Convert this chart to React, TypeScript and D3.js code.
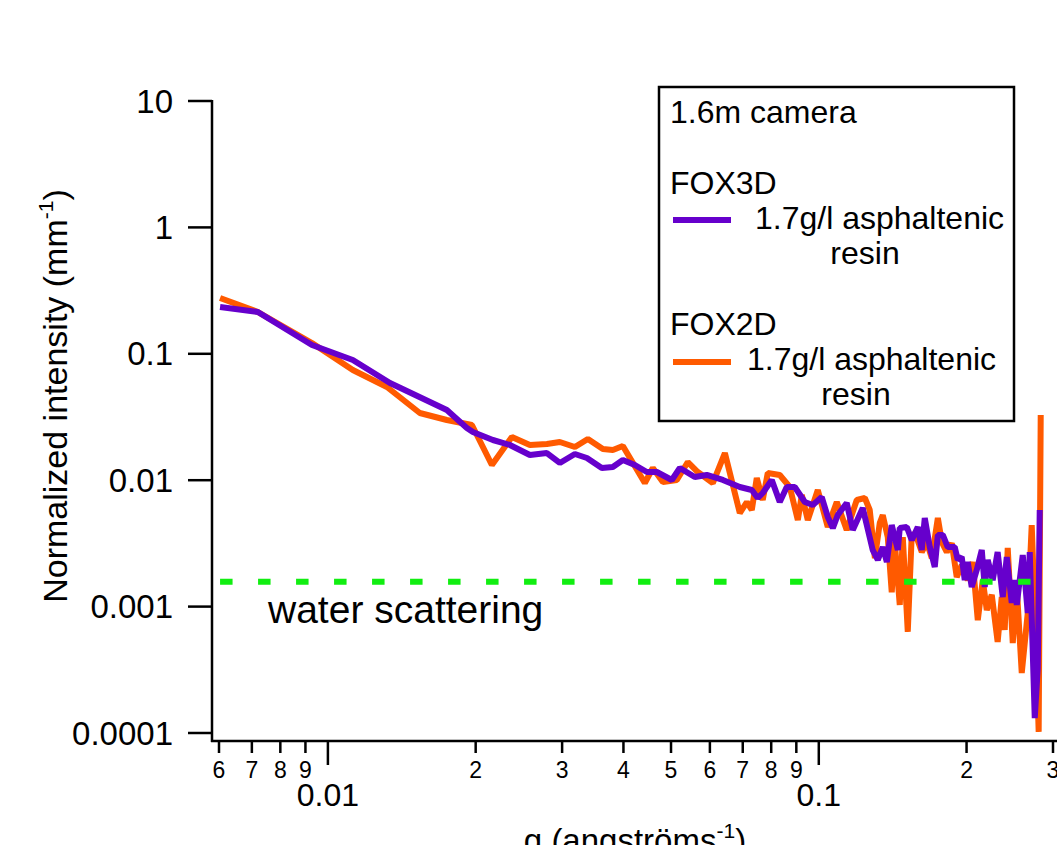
import React from 'react';
import * as d3 from 'd3';

// FOX3D series (purple), q in 1/angstrom, intensity in 1/mm
const fox3dQ = [0.00603, 0.0072, 0.00928, 0.01124, 0.01338, 0.01747, 0.01919, 0.01974, 0.02168, 0.02348, 0.02579, 0.02793, 0.02968, 0.03185, 0.0337, 0.03614, 0.03806, 0.03989, 0.0422, 0.04464, 0.04678, 0.05019, 0.05211, 0.0559, 0.05913, 0.06377, 0.06904, 0.07303, 0.07511, 0.07688, 0.08021, 0.08327, 0.08605, 0.08934, 0.09365, 0.09723, 0.1014, 0.1043, 0.1068, 0.1093, 0.114, 0.1173, 0.1229, 0.1288, 0.1319, 0.135, 0.1376, 0.1408, 0.1449, 0.1462, 0.1511, 0.1547, 0.1591, 0.1621, 0.1644, 0.1683, 0.1723, 0.1748, 0.1789, 0.1831, 0.1892, 0.1919, 0.1955, 0.1983, 0.2011, 0.2049, 0.2098, 0.2148, 0.2178, 0.2209, 0.2261, 0.2314, 0.237, 0.2415, 0.2472, 0.2507, 0.2531, 0.2603, 0.2665, 0.269, 0.2754, 0.2793, 0.2819];
const fox3dI = [0.2346, 0.2142, 0.1174, 0.0893, 0.0587, 0.0359, 0.0259, 0.02406, 0.0208, 0.019, 0.01583, 0.01641, 0.01368, 0.01612, 0.01498, 0.01249, 0.01272, 0.01445, 0.01319, 0.01161, 0.01161, 0.01004, 0.01249, 0.0106, 0.011, 0.01004, 0.00884, 0.00837, 0.00723, 0.00792, 0.01004, 0.00672, 0.00884, 0.00884, 0.00672, 0.00637, 0.00736, 0.00512, 0.00418, 0.0053, 0.0066, 0.00404, 0.00603, 0.0028, 0.00234, 0.00296, 0.00225, 0.00442, 0.0028, 0.00418, 0.00426, 0.00336, 0.00426, 0.0028, 0.00502, 0.00296, 0.00206, 0.00369, 0.00369, 0.00296, 0.00296, 0.00234, 0.00247, 0.00162, 0.00225, 0.00143, 0.00195, 0.0028, 0.00143, 0.00234, 0.00162, 0.0027, 0.00119, 0.00247, 0.00107, 0.00162, 0.00103, 0.00256, 0.00089, 0.0027, 0.000131, 0.000327, 0.00581];

// FOX2D series (orange)
const fox2dQ = [0.00603, 0.0072, 0.00928, 0.01124, 0.01319, 0.01539, 0.01747, 0.01965, 0.02158, 0.0237, 0.02579, 0.02793, 0.02968, 0.03185, 0.03385, 0.03632, 0.03806, 0.03989, 0.04422, 0.04591, 0.04812, 0.05138, 0.0541, 0.0567, 0.06083, 0.06437, 0.06904, 0.07136, 0.07303, 0.07476, 0.07688, 0.07871, 0.08327, 0.08728, 0.09063, 0.09235, 0.09497, 0.09954, 0.1043, 0.1088, 0.114, 0.1195, 0.1241, 0.127, 0.1301, 0.1331, 0.135, 0.1382, 0.1408, 0.1428, 0.1462, 0.1483, 0.1518, 0.1547, 0.1584, 0.1621, 0.166, 0.1699, 0.1748, 0.1781, 0.1823, 0.1866, 0.191, 0.1955, 0.2011, 0.2059, 0.2108, 0.2158, 0.2199, 0.2251, 0.2314, 0.2359, 0.2392, 0.2426, 0.2484, 0.2531, 0.2591, 0.2665, 0.2715, 0.278, 0.2805, 0.2832];
const fox2dI = [0.2764, 0.2142, 0.1217, 0.0744, 0.0546, 0.034, 0.02994, 0.02733, 0.01319, 0.02197, 0.019, 0.01934, 0.02006, 0.01831, 0.02118, 0.01765, 0.01733, 0.01865, 0.0095, 0.01249, 0.00968, 0.01004, 0.01393, 0.01161, 0.0095, 0.01641, 0.0055, 0.00672, 0.00581, 0.01041, 0.00697, 0.0114, 0.011, 0.00884, 0.00484, 0.00764, 0.00484, 0.00837, 0.00426, 0.00672, 0.00404, 0.00697, 0.00723, 0.00581, 0.00242, 0.00458, 0.0053, 0.00355, 0.0013, 0.00324, 0.00103, 0.00355, 0.00063, 0.00382, 0.00349, 0.0027, 0.00324, 0.00242, 0.00502, 0.00324, 0.0027, 0.00318, 0.00171, 0.00213, 0.00162, 0.00225, 0.00078, 0.00162, 0.00094, 0.00124, 0.000525, 0.00119, 0.000653, 0.00291, 0.000515, 0.00143, 0.000298, 0.00089, 0.00442, 0.000333, 0.000102, 0.0328];

// water scattering level and its q range
const waterLevel = 0.00157;
const waterQ = [0.00603, 0.276];

const yTicks = [10, 1, 0.1, 0.01, 0.001, 0.0001];
const yTickLabels = ['10', '1', '0.1', '0.01', '0.001', '0.0001'];
const xMinorTicks = [0.006, 0.007, 0.008, 0.009, 0.02, 0.03, 0.04, 0.05, 0.06, 0.07, 0.08, 0.09, 0.2, 0.3];
const xMinorLabels = ['6', '7', '8', '9', '2', '3', '4', '5', '6', '7', '8', '9', '2', '3'];
const xMajorTicks = [0.01, 0.1];
const xMajorLabels = ['0.01', '0.1'];

const PURPLE = '#6600cc';
const ORANGE = '#ff5a00';
const GREEN = '#11ee11';
const FONT = '"Liberation Sans", Arial, Helvetica, sans-serif';

export default function App() {
  const width = 1057;
  const height = 845;
  const axisX = 212;
  const axisY = 741;

  const x = d3.scaleLog().domain([0.006, 0.3]).range([219, 1053]);
  const y = d3.scaleLog().domain([0.0001, 10]).range([733, 101]);

  const line = d3.line<[number, number]>()
    .x(d => x(d[0]))
    .y(d => y(d[1]));

  const fox3d = fox3dQ.map((q, i) => [q, fox3dI[i]] as [number, number]);
  const fox2d = fox2dQ.map((q, i) => [q, fox2dI[i]] as [number, number]);

  return (
    <div style={{ position: 'absolute', left: 0, top: 0 }}>
      <svg width={width} height={height} style={{ display: 'block', background: '#fff' }} fontFamily={FONT}>
        <defs>
          <clipPath id="plot">
            <rect x={axisX} y={95} width={width - axisX} height={axisY - 95} />
          </clipPath>
        </defs>

        <text x={268} y={623} fontSize={39} fill="#000">water scattering</text>

        <g clipPath="url(#plot)" fill="none" strokeWidth={6} strokeLinejoin="bevel">
          <path d={line(fox2d) || ''} stroke={ORANGE} />
          <path d={line(fox3d) || ''} stroke={PURPLE} />
        </g>

        {/* water scattering, drawn over the data */}
        <line
          x1={x(waterQ[0])} x2={x(waterQ[1])}
          y1={y(waterLevel)} y2={y(waterLevel)}
          stroke={GREEN} strokeWidth={6} strokeDasharray="12.5 25.5"
        />

        {/* y axis */}
        <line x1={axisX} x2={axisX} y1={100} y2={axisY + 1} stroke="#000" strokeWidth={2.5} />
        {yTicks.map((t, i) => (
          <g key={'y' + i}>
            <line x1={188} x2={axisX} y1={y(t)} y2={y(t)} stroke="#000" strokeWidth={2.5} />
            <text x={173} y={y(t)} dy="0.35em" textAnchor="end" fontSize={33}>{yTickLabels[i]}</text>
          </g>
        ))}
        <text transform="translate(67,396) rotate(-90)" textAnchor="middle" fontSize={34}>
          Normalized intensity (mm<tspan fontSize={21} dy={-14}>-1</tspan><tspan dy={14}>)</tspan>
        </text>

        {/* x axis */}
        <line x1={axisX - 1} x2={width} y1={axisY} y2={axisY} stroke="#000" strokeWidth={2.5} />
        {xMinorTicks.map((t, i) => (
          <g key={'xm' + i}>
            <line x1={x(t)} x2={x(t)} y1={axisY} y2={axisY + 12} stroke="#000" strokeWidth={2.5} />
            <text x={x(t)} y={778} textAnchor="middle" fontSize={23}>{xMinorLabels[i]}</text>
          </g>
        ))}
        {xMajorTicks.map((t, i) => (
          <g key={'xM' + i}>
            <line x1={x(t)} x2={x(t)} y1={axisY} y2={axisY + 24} stroke="#000" strokeWidth={2.5} />
            <text x={x(t)} y={806} textAnchor="middle" fontSize={32}>{xMajorLabels[i]}</text>
          </g>
        ))}
        <text x={635} y={852} textAnchor="middle" fontSize={33}>
          q (angströms<tspan fontSize={21} dy={-14}>-1</tspan><tspan dy={14}>)</tspan>
        </text>

        {/* legend */}
        <rect x={659} y={87} width={355} height={334} fill="#fff" stroke="#000" strokeWidth={2.5} />
        <text x={670} y={123} fontSize={32}>1.6m camera</text>
        <text x={670} y={194} fontSize={32}>FOX3D</text>
        <line x1={673} x2={731} y1={220} y2={220} stroke={PURPLE} strokeWidth={6} />
        <text x={755} y={229} fontSize={32}>1.7g/l asphaltenic</text>
        <text x={865} y={264} fontSize={32} textAnchor="middle">resin</text>
        <text x={670} y={335} fontSize={32}>FOX2D</text>
        <line x1={673} x2={731} y1={362} y2={362} stroke={ORANGE} strokeWidth={6} />
        <text x={747} y={370} fontSize={32}>1.7g/l asphaltenic</text>
        <text x={856} y={405} fontSize={32} textAnchor="middle">resin</text>
      </svg>
    </div>
  );
}
